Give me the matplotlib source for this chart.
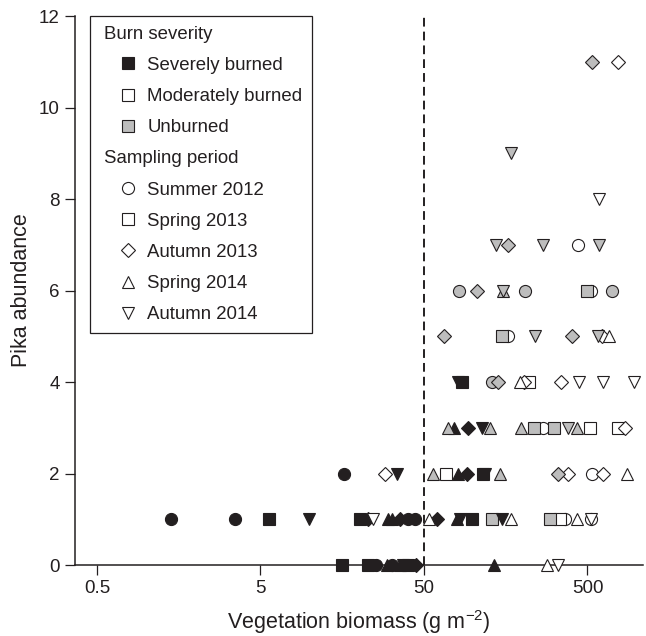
import numpy as np
import matplotlib.pyplot as plt
from matplotlib.lines import Line2D
from matplotlib.legend_handler import HandlerLine2D
from matplotlib.ticker import NullLocator

plt.rcParams['font.family'] = ['Liberation Sans', 'DejaVu Sans']
plt.rcParams['mathtext.fontset'] = 'custom'
plt.rcParams['mathtext.rm'] = 'Liberation Sans'

# one entry per site visit, grouped by pika abundance (0, 1, 2, ...)
# severity: S severely burned, M moderately burned, U unburned
# period: 0 summer 2012, 1 spring 2013, 2 autumn 2013, 3 spring 2014, 4 autumn 2014
biomass = [
    15.8, 22.7, 25.4, 29.7, 31.8, 35.7, 37.2, 39.9, 44.7, 134, 283, 330,
    1.42, 3.49, 5.64, 9.9, 20.3, 22.7, 24.4, 30.1, 31.8, 35.7, 39.9, 44.1, 53.6,
    60.1, 79.6, 83.0, 98.3, 130, 150, 170, 295, 339, 364, 431, 525, 525,
    16.2, 28.9, 34.2, 56.7, 68.1, 80.7, 91.6, 115, 118, 146, 330, 380, 533, 622, 872,
    70.1, 76.3, 92.9, 113, 127, 196, 235, 267, 312, 380, 431, 518, 768, 848,
    80.7, 85.4, 130, 142, 193, 204, 219, 344, 443, 622, 962,
    66.3, 150, 163, 239, 402, 580, 613, 677,
    81.8, 105, 152, 152, 207, 497, 525, 706,
    138, 163, 267, 437, 588,
    588,
    170,
    533, 768,
]
abundance = [
    0, 0, 0, 0, 0, 0, 0, 0, 0, 0, 0, 0,
    1, 1, 1, 1, 1, 1, 1, 1, 1, 1, 1, 1, 1,
    1, 1, 1, 1, 1, 1, 1, 1, 1, 1, 1, 1, 1,
    2, 2, 2, 2, 2, 2, 2, 2, 2, 2, 2, 2, 2, 2, 2,
    3, 3, 3, 3, 3, 3, 3, 3, 3, 3, 3, 3, 3, 3,
    4, 4, 4, 4, 4, 4, 4, 4, 4, 4, 4,
    5, 5, 5, 5, 5, 5, 5, 5,
    6, 6, 6, 6, 6, 6, 6, 6,
    7, 7, 7, 7, 7,
    8,
    9,
    11, 11,
]
severity = list(
    "SSSSSSSSSSMM"
    "SSSSSSMSSSSSM" "SSSSUSMUMMMMM"
    "SMSUMSSSSUUMMMM"
    "USSSUUUMUUUMMM"
    "SSUUMMMMMMM"
    "UUMUUUMM"
    "UUUUUUMU"
    "UUUMU"
    "M"
    "U"
    "UM"
)
period = [
    1, 1, 0, 3, 0, 3, 4, 1, 2, 3, 3, 4,
    0, 0, 1, 4, 1, 2, 4, 3, 3, 2, 0, 0, 3,
    2, 3, 4, 1, 1, 4, 3, 1, 1, 0, 3, 4, 0,
    0, 2, 4, 3, 1, 3, 2, 1, 4, 3, 2, 2, 0, 2, 3,
    3, 3, 2, 4, 3, 3, 1, 0, 1, 4, 3, 1, 1, 2,
    4, 1, 0, 2, 3, 2, 1, 2, 4, 4, 4,
    2, 1, 0, 4, 2, 4, 2, 3,
    0, 2, 3, 4, 0, 1, 0, 0,
    4, 2, 4, 0, 4,
    4,
    4,
    2, 2,
]

period_names = ['Summer 2012', 'Spring 2013', 'Autumn 2013', 'Spring 2014', 'Autumn 2014']
severity_codes = ['S', 'M', 'U']
severity_names = ['Severely burned', 'Moderately burned', 'Unburned']
threshold = 50

INK = '#231f20'
GREY = '#bdbdbd'
fills = {'S': INK, 'M': 'white', 'U': GREY}
markers = ['o', 's', 'D', '^', 'v']
sizes = [8.7, 8.2, 6.8, 9.3, 9.3]

biomass = np.array(biomass)
abundance = np.array(abundance)
severity = np.array(severity)
period = np.array(period)

fig = plt.figure(figsize=(6.46, 6.36), dpi=100)
ax = fig.add_axes([0.1161, 0.1116, 0.8793, 0.8632])

ax.axvline(threshold, color=INK, lw=1.4, dashes=(4.5, 2.6), zorder=2)

for p in range(5):
    for s in severity_codes:
        m = (period == p) & (severity == s)
        if not m.any():
            continue
        ax.plot(biomass[m], abundance[m], linestyle='none', marker=markers[p],
                ms=sizes[p], mfc=fills[s], mec=INK, mew=0.8, clip_on=False, zorder=3)

ax.set_xscale('log')
ax.set_xlim(0.367, 1093)
ax.set_ylim(0, 12)
ax.set_xticks([0.5, 5, 50, 500])
ax.set_xticklabels(['0.5', '5', '50', '500'])
ax.xaxis.set_minor_locator(NullLocator())
ax.set_yticks(range(0, 13, 2))

for side in ['top', 'right']:
    ax.spines[side].set_visible(False)
for side in ['left', 'bottom']:
    ax.spines[side].set_linewidth(1.1)
    ax.spines[side].set_color(INK)
ax.tick_params(direction='out', length=7, width=0.9, colors=INK, labelsize=13.5, pad=4)

ax.set_xlabel(r'Vegetation biomass (g m$^{-2}$)', fontsize=15.5, color=INK, labelpad=8)
ax.set_ylabel('Pika abundance', fontsize=15.5, color=INK, labelpad=5)


class ShiftedMarker(HandlerLine2D):
    # put the legend marker a bit right of the handle centre
    def get_xdata(self, legend, xdescent, ydescent, width, height, fontsize):
        return ([-xdescent + 0.33 * width, -xdescent + width],
                [-xdescent + 0.665 * width])


blank = Line2D([], [], linestyle='none')
handles = [blank]
labels = ['Burn severity']
for s, name in zip(severity_codes, severity_names):
    handles.append(Line2D([], [], linestyle='none', marker='s', ms=9.0,
                          mfc=fills[s], mec=INK, mew=0.8))
    labels.append(name)
handles.append(blank)
labels.append('Sampling period')
for p, name in enumerate(period_names):
    handles.append(Line2D([], [], linestyle='none', marker=markers[p],
                          ms=sizes[p], mfc='white', mec=INK, mew=0.8))
    labels.append(name)

leg = ax.legend(handles, labels, loc='upper left', bbox_to_anchor=(0.0264, 1.0),
                borderaxespad=0, fontsize=13.4, labelspacing=0.76, borderpad=0.52,
                handlelength=2.31, handletextpad=0.25, fancybox=False,
                framealpha=1, edgecolor=INK, handler_map={Line2D: ShiftedMarker()})
leg.get_frame().set_linewidth(0.9)
for t in leg.get_texts():
    t.set_color(INK)

# headers sit flush left, without a handle slot
headers = ['Burn severity', 'Sampling period']
for col in leg._legend_handle_box.get_children():
    for item in col.get_children():
        da, ta = item.get_children()
        if ta.get_text() in headers:
            da.width = 0

fig.savefig('out.png', dpi=100)
